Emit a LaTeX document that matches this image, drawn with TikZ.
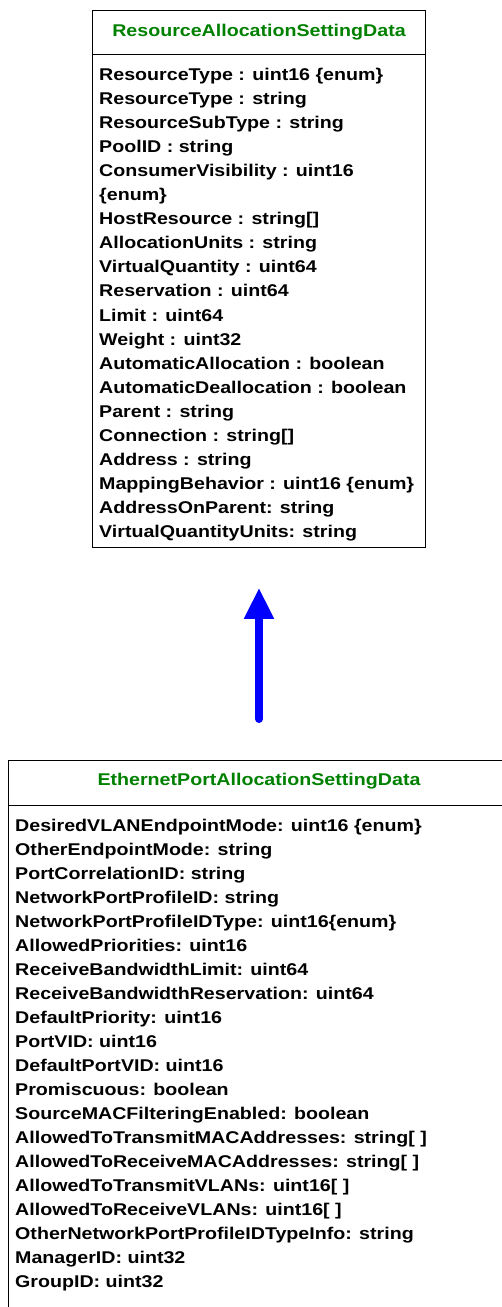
\documentclass[tikz,border=0pt]{standalone}
\usepackage{fontspec}
\setmainfont{Liberation Sans}
\newfontfamily\diagfont[FakeStretch=1.155]{Liberation Sans}
\usetikzlibrary{arrows.meta}
\definecolor{titlegreen}{RGB}{0,128,0}
\tikzset{
  classbox/.style={draw=black, line width=0.8pt, anchor=north west, inner sep=0pt},
  titletext/.style={font=\diagfont\fontsize{17}{20}\selectfont\bfseries, text=titlegreen, anchor=base, inner sep=0pt},
  attrtext/.style={font=\diagfont\fontsize{17}{20}\selectfont\bfseries, anchor=base west, inner sep=0pt},
  inherit/.style={draw=blue, line width=8pt, line cap=round, -{Triangle[width=28pt,length=31pt]}}
}
\begin{document}
\begin{tikzpicture}[x=1pt,y=1pt]
\useasboundingbox (0,0) rectangle (502,-1307);
\clip (0,0) rectangle (502,-1307);
% top class
\node[classbox, minimum width=333pt, minimum height=537pt] (raBox) at (92,-10) {};
\coordinate (raDivL) at (92,-54);
\coordinate (raDivR) at (425,-54);
\draw[line width=0.8pt] (raDivL) -- (raDivR);
\node[titletext] (raTitle) at (259,-36) {ResourceAllocationSettingData};
\foreach \t [count=\i] in {
  {ResourceType : uint16 \{enum\}},
  {ResourceType : string},
  {ResourceSubType : string},
  {PoolID : string},
  {ConsumerVisibility : uint16},
  {\{enum\}},
  {HostResource : string[]},
  {AllocationUnits : string},
  {VirtualQuantity : uint64},
  {Reservation : uint64},
  {Limit : uint64},
  {Weight : uint32},
  {AutomaticAllocation : boolean},
  {AutomaticDeallocation : boolean},
  {Parent : string},
  {Connection : string[]},
  {Address : string},
  {MappingBehavior : uint16 \{enum\}},
  {AddressOnParent: string},
  {VirtualQuantityUnits: string}}
  \node[attrtext] (ra\i) at (99,{-80-24.1*(\i-1)}) {\t};
% bottom class
\node[classbox, minimum width=520pt, minimum height=600pt] (epBox) at (8,-760) {};
\coordinate (epDivL) at (8,-805);
\coordinate (epDivR) at (528,-805);
\draw[line width=0.8pt] (epDivL) -- (epDivR);
\node[titletext] (epTitle) at (259,-785) {EthernetPortAllocationSettingData};
\foreach \t [count=\i] in {
  {DesiredVLANEndpointMode: uint16 \{enum\}},
  {OtherEndpointMode: string},
  {PortCorrelationID: string},
  {NetworkPortProfileID: string},
  {NetworkPortProfileIDType: uint16\{enum\}},
  {AllowedPriorities: uint16},
  {ReceiveBandwidthLimit: uint64},
  {ReceiveBandwidthReservation: uint64},
  {DefaultPriority: uint16},
  {PortVID: uint16},
  {DefaultPortVID: uint16},
  {Promiscuous: boolean},
  {SourceMACFilteringEnabled: boolean},
  {AllowedToTransmitMACAddresses: string[ ]},
  {AllowedToReceiveMACAddresses: string[ ]},
  {AllowedToTransmitVLANs: uint16[ ]},
  {AllowedToReceiveVLANs: uint16[ ]},
  {OtherNetworkPortProfileIDTypeInfo: string},
  {ManagerID: uint32},
  {GroupID: uint32}}
  \node[attrtext] (ep\i) at (15,{-831-24*(\i-1)}) {\t};
% inheritance arrow
\coordinate (arrTail) at (259,-760);
\draw[inherit, shorten <=41pt, shorten >=40pt] (arrTail) -- (raBox.south -| arrTail);
\end{tikzpicture}
\end{document}
